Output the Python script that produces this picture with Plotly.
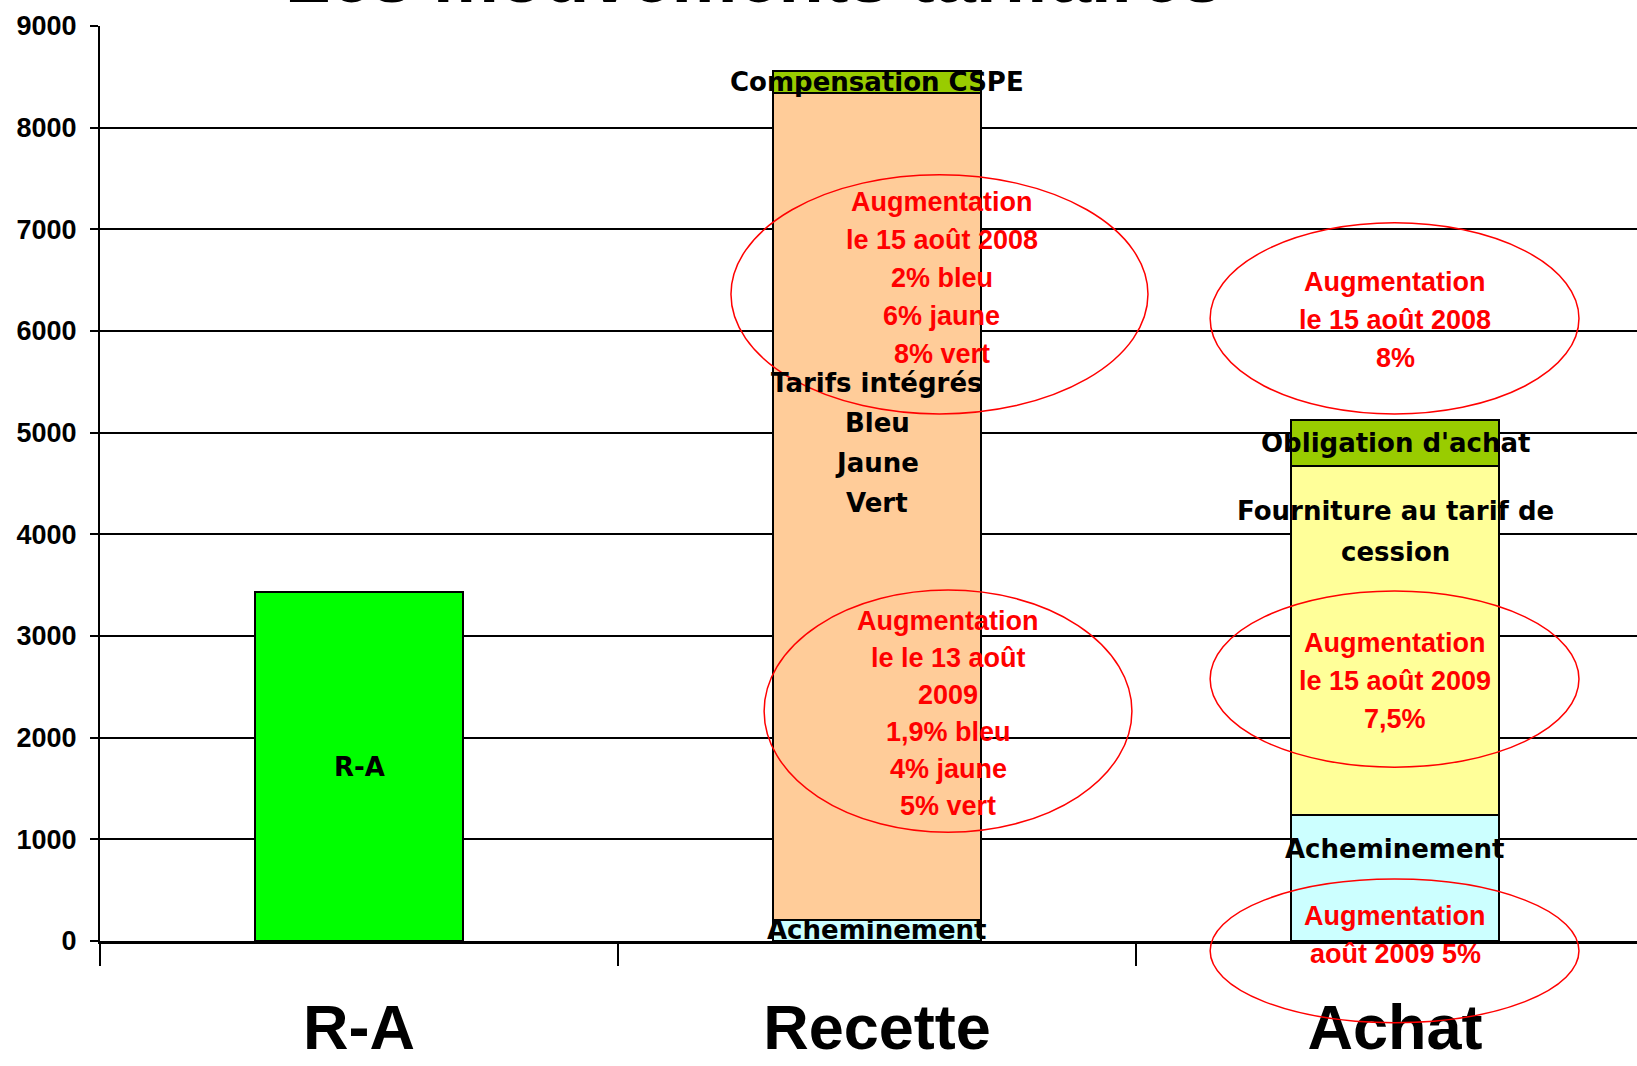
import plotly.graph_objects as go

# ---------------- data ----------------
categories = ["R-A", "Recette", "Achat"]
ra_values = [3430, None, None]
acheminement = [None, 210, 1240]
tarifs_integres = [None, 8130, None]
compensation_cspe = [None, 220, None]
fourniture_cession = [None, None, 3430]
obligation_achat = [None, None, 450]
y_tick_values = [0, 1000, 2000, 3000, 4000, 5000, 6000, 7000, 8000, 9000]
y_range = [0, 9000]

title_text = "Les mouvements tarifaires"

FONT = "Liberation Sans, Arial, sans-serif"
LABEL_FONT = "DejaVu Sans, Liberation Sans, sans-serif"
W, H = 1637, 1066

fig = go.Figure()

series = [
    ("R-A", ra_values, "#00FF00"),
    ("Acheminement", acheminement, "#CCFFFF"),
    ("Tarifs intégrés", tarifs_integres, "#FFCC99"),
    ("Compensation CSPE", compensation_cspe, "#99CC00"),
    ("Fourniture au tarif de cession", fourniture_cession, "#FFFF99"),
    ("Obligation d'achat", obligation_achat, "#99CC00"),
]
for name, vals, col in series:
    fig.add_trace(go.Bar(
        x=categories, y=vals, name=name, width=0.4,
        marker=dict(color=col, line=dict(color="black", width=2)),
        hoverinfo="skip",
    ))

# ---------------- labels ----------------
def v(lst, i):
    return lst[i] or 0

annotations = []

def black_label(x, y, lines, spacing=40):
    n = len(lines)
    for k, t in enumerate(lines):
        annotations.append(dict(
            x=x, y=y, xref="x", yref="y", text=t, showarrow=False,
            yshift=((n - 1) / 2 - k) * spacing,
            font=dict(family=LABEL_FONT, size=26, color="black", weight="bold"),
        ))

def red_label(x, y, lines, spacing=38, yref="y"):
    n = len(lines)
    yy = y if yref == "y" else y / y_range[1]
    for k, t in enumerate(lines):
        annotations.append(dict(
            x=x, y=yy, xref="x", yref=yref, text=t, showarrow=False,
            yshift=((n - 1) / 2 - k) * spacing,
            font=dict(family=FONT, size=27, color="#FF0000", weight="bold"),
        ))

# R-A
black_label(0, ra_values[0] / 2, ["R-A"])
# Recette segments
rec_ach = v(acheminement, 1)
rec_tar = v(tarifs_integres, 1)
rec_csp = v(compensation_cspe, 1)
black_label(1, rec_ach / 2, ["Acheminement"])
black_label(1, rec_ach + rec_tar * 0.577, ["Tarifs intégrés", "Bleu", "Jaune", "Vert"], spacing=40)
black_label(1, rec_ach + rec_tar + rec_csp / 2, ["Compensation CSPE"])
# Achat segments
a_ach = v(acheminement, 2)
a_fou = v(fourniture_cession, 2)
a_obl = v(obligation_achat, 2)
black_label(2, a_ach * 0.73, ["Acheminement"])
black_label(2, a_ach + a_fou * 0.814, ["Fourniture au tarif de", "cession"], spacing=41)
black_label(2, a_ach + a_fou + a_obl / 2, ["Obligation d'achat"])

# red notes
red_label(1.125, 6525, ["Augmentation", "le 15 août 2008", "2% bleu", "6% jaune", "8% vert"])
red_label(1.137, 2241, ["Augmentation", "le le 13 août", "2009", "1,9% bleu", "4% jaune", "5% vert"], spacing=37)
red_label(2.0, 6104, ["Augmentation", "le 15 août 2008", "8%"])
red_label(2.0, 2559, ["Augmentation", "le 15 août 2009", "7,5%"])
red_label(2.0, -111, ["Augmentation", "août 2009 5%"], yref="paper")

# title (cut off at the top of the page, as in the original)
annotations.append(dict(
    x=0.4258, y=1, xref="paper", yref="paper", xanchor="center", yanchor="bottom",
    yshift=6, text=title_text, showarrow=False,
    font=dict(family=FONT, size=74, color="black", weight="bold"),
))

# ---------------- ellipses ----------------
ellipses = [
    # x0, x1 (category units), y_low, y_high (data units)
    (0.718, 1.523, 5184, 7537),
    (0.782, 1.492, 1070, 3452),
    (1.643, 2.355, 5184, 7064),
    (1.643, 2.355, 1710, 3442),
    (1.643, 2.355, -803, 609),
]
shapes = []
for x0, x1, y0, y1 in ellipses:
    shapes.append(dict(
        type="circle", xref="x", yref="paper",
        x0=x0, x1=x1, y0=y0 / y_range[1], y1=y1 / y_range[1],
        line=dict(color="#FF0000", width=1.5), fillcolor="rgba(0,0,0,0)",
        layer="above",
    ))

fig.update_layout(
    width=W, height=H, autosize=False,
    margin=dict(l=100, r=0, t=26, b=125, pad=0, autoexpand=False),
    paper_bgcolor="white", plot_bgcolor="white",
    barmode="stack", showlegend=False,
    annotations=annotations, shapes=shapes,
    font=dict(family=FONT, color="black"),
)
fig.update_xaxes(
    type="category", categoryorder="array", categoryarray=categories,
    range=[-0.5, 2.467], automargin=False,
    showline=True, linecolor="black", linewidth=3,
    ticks="outside", tickson="boundaries", ticklen=22, tickwidth=2, tickcolor="black",
    tickfont=dict(family=FONT, size=63, color="black", weight="bold"),
    ticklabelstandoff=29,
    showgrid=False, zeroline=False,
)
fig.update_yaxes(
    range=y_range, tickvals=y_tick_values, automargin=False,
    showline=True, linecolor="black", linewidth=2,
    ticks="outside", ticklen=8, tickwidth=2, tickcolor="black",
    showgrid=True, gridcolor="black", gridwidth=2,
    zeroline=False,
    tickfont=dict(family=FONT, size=27, color="black", weight="bold"),
    ticklabelstandoff=8,
)

fig.write_html(
    "out.html",
    config={"displayModeBar": False},
    post_script="document.body.style.margin='0';document.body.style.overflow='hidden';",
)
